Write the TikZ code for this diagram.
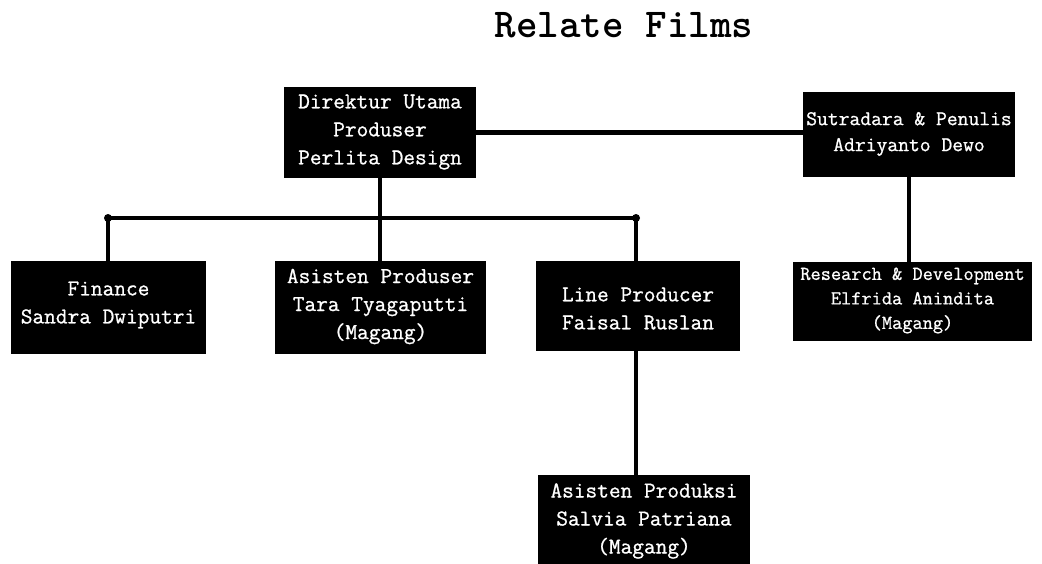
\documentclass[tikz,border=0pt]{standalone}
\usepackage{fontspec}
\newfontfamily\boxfont{Latin Modern Mono}[FakeBold=0.9]
\begin{document}
\begin{tikzpicture}[x=1pt,y=-1pt,
  box/.style={fill=black, draw=none, inner sep=0pt},
  btext/.style={text=white, align=center, inner sep=0pt,
    font=\boxfont\fontsize{22.7}{28}\selectfont},
  mtext/.style={btext, font=\boxfont\fontsize{21}{26}\selectfont},
  stext/.style={btext, font=\boxfont\fontsize{19.8}{24.5}\selectfont},
  conn/.style={line width=4.5pt, draw=black},
  dot/.style={circle, fill=black, inner sep=0pt, minimum size=8pt}]
\useasboundingbox (0,0) rectangle (1042,563);
\node[font=\ttfamily\bfseries\fontsize{41}{44}\selectfont] (title) at (624,25) {Relate Films};

\node[box, minimum width=192pt, minimum height=91pt] (dir) at (380,132.5) {};
\node[btext] (dirt) at (380,132) {Direktur Utama\\Produser\\Perlita Design};
\node[box, minimum width=212pt, minimum height=85pt] (sut) at (909,134.5) {};
\node[mtext] (sutt) at (909,134) {Sutradara \& Penulis\\Adriyanto Dewo};
\node[box, minimum width=195pt, minimum height=93pt] (fin) at (108.5,307.5) {};
\node[btext] (fint) at (108.5,305) {Finance\\Sandra Dwiputri};
\node[box, minimum width=211pt, minimum height=93pt] (apr) at (380.5,307.5) {};
\node[btext] (aprt) at (380.5,306.5) {Asisten Produser\\Tara Tyagaputti\\(Magang)};
\node[box, minimum width=204pt, minimum height=90pt] (lp) at (638,306) {};
\node[btext] (lpt) at (638,308.5) {Line Producer\\Faisal Ruslan};
\node[box, minimum width=239pt, minimum height=79pt] (rd) at (912.5,301.5) {};
\node[stext] (rdt) at (912.5,300.5) {Research \& Development\\Elfrida Anindita\\(Magang)};
\node[box, minimum width=212pt, minimum height=95pt] (aps) at (644,522.5) {};
\node[btext] (apst) at (644,521) {Asisten Produksi\\Salvia Patriana\\(Magang)};

\coordinate (jl) at (108,218);
\coordinate (jr) at (636,218);

\draw[conn] (dir.east) -- (sut.west |- dir.east);
\draw[conn] (dir.south) -- (dir.south |- jl);
\draw[conn] (jl) -- (jr);
\draw[conn] (jl) -- (jl |- fin.north);
\draw[conn] (dir.south |- jl) -- (dir.south |- apr.north);
\draw[conn] (jr) -- (jr |- lp.north);
\draw[conn] (jr |- lp.south) -- (jr |- aps.north);
\draw[conn] (sut.south) -- (sut.south |- rd.north);
\node[dot] (dl) at (jl) {};
\node[dot] (dr) at (jr) {};
\end{tikzpicture}
\end{document}
